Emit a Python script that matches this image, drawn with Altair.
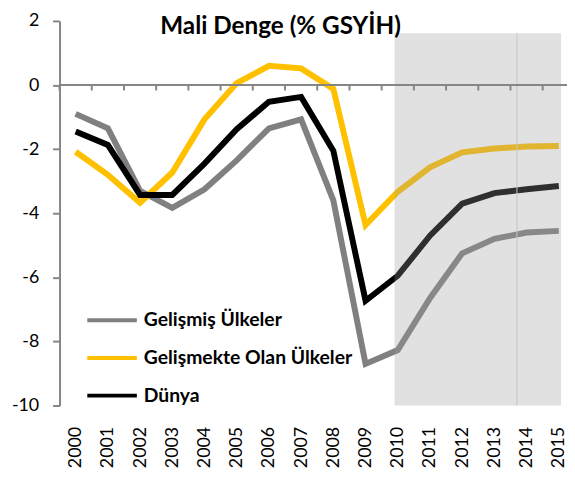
import altair as alt
import pandas as pd

years = list(range(2000, 2016))
series_names = ["Gelişmiş Ülkeler", "Gelişmekte Olan Ülkeler", "Dünya"]
gelismis = [-0.9, -1.35, -3.3, -3.83, -3.25, -2.35, -1.35, -1.07, -3.6, -8.7, -8.27, -6.65, -5.25, -4.8, -4.6, -4.55]
gelismekte = [-2.08, -2.8, -3.67, -2.73, -1.07, 0.06, 0.6, 0.52, -0.12, -4.37, -3.33, -2.57, -2.1, -1.98, -1.92, -1.9]
dunya = [-1.45, -1.87, -3.43, -3.43, -2.45, -1.38, -0.52, -0.37, -2.05, -6.73, -5.95, -4.7, -3.7, -3.37, -3.25, -3.15]
colors = ["#808080", "#FFC000", "#000000"]
title_text = "Mali Denge (% GSYİH)"
y_ticks = [-10, -8, -6, -4, -2, 0, 2]
shade_start, shade_end = 2009.9, 2015.07
shade_top, shade_bottom = 1.62, -10.0
forecast_line = 2013.7

FONT = "Lato"
XMIN, XMAX = 1999.5, 2015.254

rows = []
for name, vals in zip(series_names, [gelismis, gelismekte, dunya]):
    for y, v in zip(years, vals):
        rows.append({"year": y, "value": v, "series": name})
df = pd.DataFrame(rows)

xscale = alt.Scale(domain=[XMIN, XMAX], nice=False, zero=False)
yscale = alt.Scale(domain=[-10, 2], nice=False, zero=False)

xaxis = alt.Axis(values=years, format="d", labelAngle=-90, grid=False,
                 domain=False, ticks=False, tickSize=0, labelPadding=21,
                 labelOverlap=False, labelFlush=False, labelBound=False,
                 labelFont=FONT, labelFontSize=18, labelColor="#000000", title=None)
yaxis = alt.Axis(values=y_ticks, grid=False, domainColor="#868686",
                 domainWidth=2, tickColor="#868686", tickWidth=2, tickSize=7,
                 labelPadding=14, labelFont=FONT, labelFontSize=18,
                 labelOverlap=False, labelFlush=False,
                 labelExpr="toString(datum.value)",
                 labelColor="#000000", title=None)

lines = alt.Chart(df).mark_line(strokeWidth=6, clip=True).encode(
    x=alt.X("year:Q", scale=xscale, axis=xaxis),
    y=alt.Y("value:Q", scale=yscale, axis=yaxis),
    color=alt.Color("series:N", scale=alt.Scale(domain=series_names, range=colors), legend=None),
    detail="series:N",
)

shade_df = pd.DataFrame({"x": [shade_start], "x2": [shade_end], "y": [shade_top], "y2": [shade_bottom]})
shade = alt.Chart(shade_df).mark_rect(color="#9a9a9a", opacity=0.3).encode(
    x=alt.X("x:Q", scale=xscale, axis=xaxis), x2="x2:Q",
    y=alt.Y("y:Q", scale=yscale, axis=yaxis), y2="y2:Q",
)

fl_df = pd.DataFrame({"x": [forecast_line], "y": [shade_top], "y2": [shade_bottom]})
fline = alt.Chart(fl_df).mark_rule(color="#c4c4c4", strokeWidth=1).encode(
    x=alt.X("x:Q", scale=xscale, axis=xaxis),
    y=alt.Y("y:Q", scale=yscale, axis=yaxis), y2="y2:Q",
)

axis_df = pd.DataFrame({"x": [XMIN], "x2": [XMAX], "y": [0]})
zero_axis = alt.Chart(axis_df).mark_rule(color="#868686", strokeWidth=2).encode(
    x=alt.X("x:Q", scale=xscale, axis=xaxis), x2="x2:Q",
    y=alt.Y("y:Q", scale=yscale, axis=yaxis),
)

tick_pos = [1999.5 + i for i in range(16)]
tick_df = pd.DataFrame({"x": tick_pos, "y": [0] * len(tick_pos), "y2": [-0.17] * len(tick_pos)})
xticks = alt.Chart(tick_df).mark_rule(color="#868686", strokeWidth=2).encode(
    x=alt.X("x:Q", scale=xscale, axis=xaxis),
    y=alt.Y("y:Q", scale=yscale, axis=yaxis), y2="y2:Q",
)

title = alt.Chart(pd.DataFrame({"t": [title_text]})).mark_text(
    font=FONT, fontSize=24.5, fontWeight="bold", color="#000000", align="center", baseline="alphabetic"
).encode(text="t:N", x=alt.value(223), y=alt.value(13))

legend_layers = []
row_y = [302, 340, 378]
for name, col, yy in zip(series_names, colors, row_y):
    ld = pd.DataFrame({"label": [name]})
    legend_layers.append(
        alt.Chart(ld).mark_rule(color=col, strokeWidth=4).encode(
            x=alt.value(28), x2=alt.value(78), y=alt.value(yy))
    )
    legend_layers.append(
        alt.Chart(ld).mark_text(font=FONT, fontSize=19.5, fontWeight="bold", color="#000000",
                                align="left", baseline="middle").encode(
            text="label:N", x=alt.value(85), y=alt.value(yy))
    )

chart = alt.layer(lines, shade, fline, zero_axis, xticks, title, *legend_layers).properties(
    width=512, height=388,
    autosize=alt.AutoSizeParams(type="none"),
    padding={"left": 52, "top": 11, "right": 0, "bottom": 65},
).configure_view(stroke=None).configure_axis(labelOverlap=False)

chart.save("out.html", embed_options={"renderer": "svg", "actions": False})
